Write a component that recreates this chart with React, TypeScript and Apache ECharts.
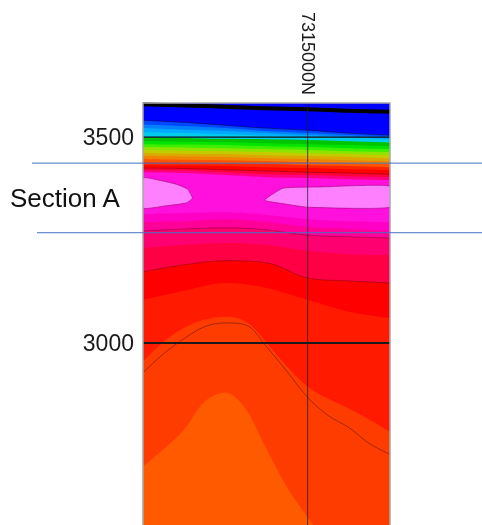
import React, { useEffect, useRef } from "react";
import * as echarts from "echarts";

// Northing positions (m) of the profile nodes
const xs7 = [7314000, 7314250, 7314500, 7314750, 7315000, 7315250, 7315500];
const xs13 = [7314000, 7314125, 7314250, 7314375, 7314500, 7314625, 7314750, 7314875, 7315000, 7315125, 7315250, 7315375, 7315500];

// Elevations (m) of the contour-band boundaries, top to bottom
const surface = [3580, 3577, 3574, 3570, 3568, 3564, 3562];
const b01 = [3541, 3536, 3529, 3522, 3517, 3510, 3505];
const b02 = [3531, 3527, 3522, 3515, 3510, 3505, 3501];
const b03 = [3522, 3518, 3515, 3510, 3505, 3501, 3498];
const b04 = [3512, 3510, 3507, 3504, 3501, 3499, 3494];
const b05 = [3499, 3498, 3496, 3495, 3493, 3490, 3487];
const b06 = [3490, 3489, 3488, 3485, 3483, 3481, 3478];
const b07 = [3483, 3482, 3481, 3478, 3476, 3473, 3471];
const b08 = [3476, 3475, 3473, 3471, 3469, 3466, 3464];
const b09 = [3469, 3467, 3466, 3464, 3461, 3459, 3456];
const b10 = [3461, 3460, 3459, 3456, 3454, 3452, 3449];
const b11 = [3454, 3453, 3452, 3449, 3447, 3444, 3442];
const b12 = [3447, 3445, 3444, 3442, 3439, 3437, 3435];
const b13 = [3439, 3438, 3437, 3435, 3432, 3430, 3427];
const b14 = [3432, 3431, 3430, 3427, 3425, 3422, 3420];
const b15 = [3425, 3424, 3421, 3418, 3415, 3413, 3410];
const b16 = [3420, 3419, 3415, 3410, 3408, 3405, 3403];
const b17 = [3415, 3413, 3408, 3403, 3401, 3398, 3396];
const b18 = [3313, 3316, 3318, 3311, 3301, 3296, 3294];
const b19 = [3294, 3296, 3301, 3294, 3282, 3277, 3272];
const b20 = [3272, 3277, 3280, 3275, 3262, 3258, 3255];
const b21 = [3231, 3238, 3243, 3238, 3224, 3216, 3214];
const b22 = [3173, 3190, 3200, 3195, 3158, 3151, 3146];
const b23 = [3105, 3127, 3146, 3134, 3105, 3076, 3061];
const b24 = [2955, 3003, 3037, 3057, 3064, 3052, 3001, 2943, 2894, 2865, 2841, 2814, 2785];
const b25 = [2700, 2742, 2790, 2858, 2880, 2839, 2742, 2650, 2577, 2511, 2463, 2427, 2402];
const bumpContour = [2928, 2974, 3011, 3040, 3049, 3044, 2991, 2931, 2868, 2824, 2795, 2756, 2730];

// Closed high-value lenses inside Section A
const blobLeftX = [7314000, 7314090, 7314200, 7314270, 7314300, 7314260, 7314130, 7314000];
const blobLeftY = [3401, 3396, 3386, 3374, 3352, 3340, 3333, 3328];
const blobRightX = [7314740, 7314850, 7315075, 7315500, 7315500, 7315000, 7314860];
const blobRightY = [3347, 3376, 3379, 3381, 3330, 3330, 3338];

const bandColors = [
  "#0048ff", "#0080ff", "#00aaff", "#00ccee", "#00c400", "#00e400", "#3cf000", "#8ce400",
  "#c4cc00", "#dca800", "#f08400", "#ff5400", "#ff2400", "#ff0000", "#ff0038", "#ff0080",
  "#ff10dc", "#ff00c4", "#ff0098", "#ff0070", "#ff0044", "#ff0000", "#ff1a00", "#ff3c00", "#ff5a00",
];
const bandBounds = [b01, b02, b03, b04, b05, b06, b07, b08, b09, b10, b11, b12, b13, b14, b15, b16, b17, b18, b19, b20, b21, b22, b23, b24, b25];

const yTicks = [3000, 3500];
const yMin = 2500;
const yMax = 3583;
const xMin = 7314000;
const xMax = 7315500;
const markedNorthing = 7315000;
const sectionTop = 3437;
const sectionBottom = 3268;
const sectionLabel = "Section A";

const FONT = "'Liberation Sans', Arial, sans-serif";

const pairs = (ys: number[]) => {
  const xs = ys.length === 13 ? xs13 : xs7;
  return ys.map((y, i) => [xs[i], y]);
};

export default function App() {
  const ref = useRef<HTMLDivElement>(null);
  useEffect(() => {
    if (!ref.current) return;
    const chart = echarts.init(ref.current, null, { renderer: "svg" });

    const bandSeries = bandBounds.map((b, i) => ({
      type: "line",
      data: pairs(b),
      smooth: 0.35,
      symbol: "none",
      silent: true,
      lineStyle: { width: 0, opacity: 0 },
      areaStyle: { color: bandColors[i], opacity: 1, origin: "start" },
      z: 2,
    }));

    const blob = (xs: number[], ys: number[]) => ({
      type: "custom",
      silent: true,
      clip: true,
      data: [[xs[0], ys[0]]],
      renderItem: (_p: any, api: any) => ({
        type: "polygon",
        shape: { points: xs.map((x, i) => api.coord([x, ys[i]])), smooth: 0.15 },
        style: { fill: "#ff80ff", stroke: "rgba(150,0,110,0.55)", lineWidth: 1 },
      }),
      z: 3,
    });

    const contour = (ys: number[], color: string, width = 1) => ({
      type: "line",
      data: pairs(ys),
      smooth: 0.35,
      symbol: "none",
      silent: true,
      lineStyle: { color, width },
      z: 4,
    });

    const straight = (data: number[][], color: string, width: number) => ({
      type: "line",
      data,
      symbol: "none",
      silent: true,
      clip: false,
      lineStyle: { color, width },
      z: 6,
    });

    chart.setOption({
      animation: false,
      grid: {
        left: 143, right: 92, top: 103, bottom: 0,
        show: true, backgroundColor: "#0000ff", borderWidth: 0,
      },
      xAxis: {
        type: "value",
        position: "top",
        min: xMin,
        max: xMax,
        interval: 500,
        axisLine: { show: false },
        axisTick: { show: false },
        splitLine: { show: false },
        axisLabel: {
          rotate: 90,
          margin: 8,
          fontSize: 18,
          fontFamily: FONT,
          color: "#1a1a1a",
          formatter: (v: number) => (v === markedNorthing ? `${v}N` : ""),
        },
      },
      yAxis: {
        type: "value",
        min: yMin,
        max: yMax,
        interval: 500,
        axisLine: { show: false },
        axisTick: { show: false },
        splitLine: { show: false },
        axisLabel: {
          margin: 9,
          fontSize: 23,
          fontFamily: FONT,
          color: "#1a1a1a",
          formatter: (v: number) => (yTicks.includes(v) ? String(v) : ""),
        },
      },
      series: [
        ...bandSeries,
        blob(blobLeftX, blobLeftY),
        blob(blobRightX, blobRightY),
        contour(b01, "rgba(0,0,90,0.6)"),
        contour(b15, "rgba(110,0,20,0.45)"),
        contour(b20, "rgba(110,0,40,0.45)"),
        contour(b22, "rgba(110,0,0,0.45)"),
        contour(bumpContour, "rgba(90,20,20,0.55)"),
        { ...contour(surface, "#000000", 4), z: 5 },
        straight([[xMin, yTicks[1]], [xMax, yTicks[1]]], "#111111", 1.3),
        straight([[xMin, yTicks[0]], [xMax, yTicks[0]]], "#1a1a1a", 2),
        straight([[markedNorthing, yMin], [markedNorthing, yMax]], "rgba(30,30,30,0.75)", 1),
      ],
    });

    const yTop = chart.convertToPixel({ yAxisIndex: 0 }, sectionTop) as number;
    const yBot = chart.convertToPixel({ yAxisIndex: 0 }, sectionBottom) as number;
    chart.setOption({
      graphic: [
        {
          type: "rect",
          z: 50,
          silent: true,
          shape: { x: 143, y: 103, width: 247, height: 460 },
          style: { fill: "none", stroke: "#a8a8a8", lineWidth: 1.5 },
        },
        {
          type: "line",
          z: 60,
          silent: true,
          shape: { x1: 32, y1: yTop, x2: 482, y2: yTop },
          style: { stroke: "#4472c4", lineWidth: 1 },
        },
        {
          type: "line",
          z: 60,
          silent: true,
          shape: { x1: 37, y1: yBot, x2: 482, y2: yBot },
          style: { stroke: "#4472c4", lineWidth: 1 },
        },
        {
          type: "text",
          z: 60,
          silent: true,
          x: 10,
          y: (yTop + yBot) / 2,
          style: {
            text: sectionLabel,
            fontSize: 26,
            fontFamily: FONT,
            fill: "#111",
            textVerticalAlign: "middle",
          },
        },
      ],
    });

    return () => chart.dispose();
  }, []);
  return <div ref={ref} style={{ position: "fixed", left: 0, top: 0, width: 482, height: 549 }} />;
}
